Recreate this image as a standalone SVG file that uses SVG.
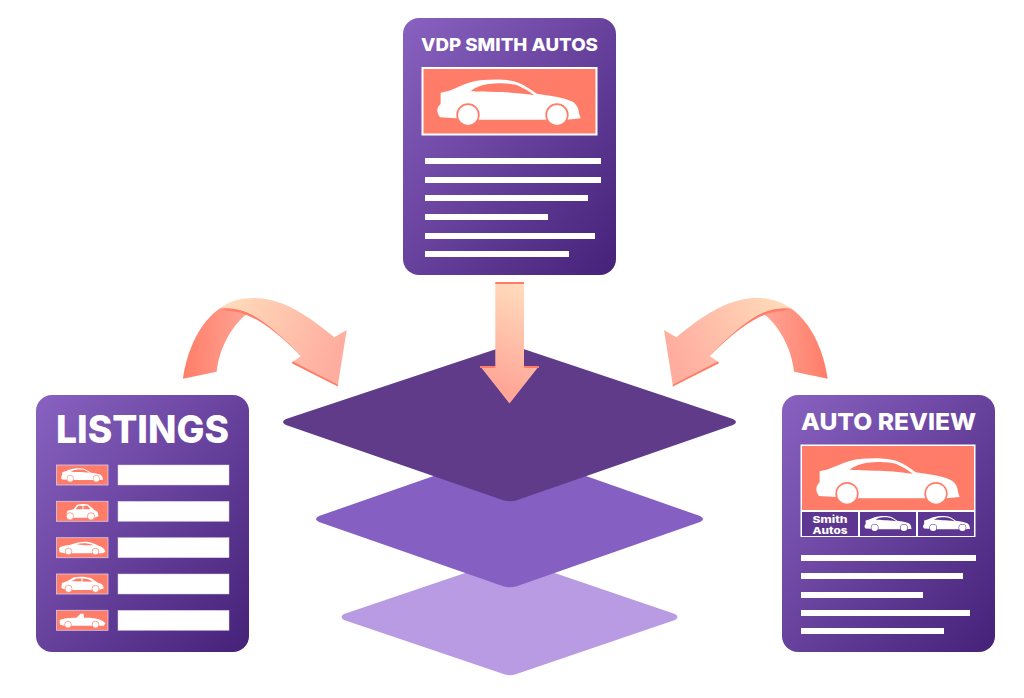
<svg xmlns="http://www.w3.org/2000/svg" xmlns:xlink="http://www.w3.org/1999/xlink" width="1024" height="698" viewBox="0 0 1024 698">
<style>
.card{fill:url(#cardGrad)}
.line{fill:#fff}
.title{font-family:"Inter","Noto Sans","Liberation Sans",sans-serif;font-weight:800;fill:#fff}
.img{fill:#ff7d68;stroke:#fff;stroke-width:2}
.thumb{fill:#ff7d68;stroke:#d9c8ea;stroke-width:.8}
.bar{fill:#fff;stroke:#d9c8ea;stroke-width:.5}
.edge{fill:#ff7d68}
.sm{fill:#fff}
.big{color:#ff7d68}
.dark{color:#5c3690}
</style>
<defs>
<linearGradient id="cardGrad" x1="0" y1="0" x2="1" y2="1"><stop offset="0" stop-color="#8962c1"/><stop offset="1" stop-color="#452178"/></linearGradient>
<linearGradient id="light" gradientUnits="userSpaceOnUse" x1="340" y1="350" x2="225" y2="300"><stop offset="0" stop-color="#ffad9e"/><stop offset="1" stop-color="#ffdcbc"/></linearGradient>
<linearGradient id="back" gradientUnits="userSpaceOnUse" x1="183" y1="340" x2="250" y2="340"><stop offset="0" stop-color="#ff7d68"/><stop offset="1" stop-color="#ffa697"/></linearGradient>
<linearGradient id="down" gradientUnits="userSpaceOnUse" x1="495" y1="385" x2="535" y2="290"><stop offset="0" stop-color="#ffa697"/><stop offset="1" stop-color="#ffdcbc"/></linearGradient>
<g id="car">
<path fill="#fff" d="M120 322C112 312 110 300 114 292C118 284 122 284 122 278L122 248C140 244 155 240 170 233C190 224 210 214 250 210C290 207 330 208 355 218C375 226 395 240 410 251C450 257 490 262 515 274C530 282 536 295 537 310L542 325L500 329L240 329L120 322Z"/>
<path fill="currentColor" d="M212 243C225 232 245 225 265 222C300 218 335 221 352 226C370 234 388 245 402 255C360 250 320 246 290 246C260 245 235 245 212 243Z"/>
<circle cx="204" cy="315" r="35" fill="currentColor"/><circle cx="204" cy="315" r="30" fill="#fff"/>
<circle cx="471" cy="315" r="35" fill="currentColor"/><circle cx="471" cy="315" r="30" fill="#fff"/>
</g>
</defs>

<g id="layers">
<g id="layer-3"><path fill="#b89be3" d="M505 559.500Q510 558 515 559.500L675 614Q680 617 675 620L515 674.500Q510 676 505 674.500L344 620Q339 617 344 614Z"/></g>
<g id="layer-2"><path fill="#865fc3" d="M504 451.500Q510 450 516 451.500L700 516Q706 519 700 522L516 586.500Q510 588 504 586.500L319 522Q313 519 319 516Z"/></g>
<g id="layer-1"><path fill="#5f3b8a" d="M504 346.500Q510 345 516 346.500L733 419Q739 422 733 425L516 500.500Q510 502 504 500.500L286 425Q280 422 286 419Z"/></g>
</g>

<g id="card-vdp">
<rect class="card" x="403" y="18" width="213" height="257" rx="16"/>
<text class="title" x="509.500" y="51" font-size="17.500" text-anchor="middle" textLength="177" lengthAdjust="spacingAndGlyphs">VDP SMITH AUTOS</text>
<rect class="img" x="422.500" y="68" width="174" height="66.500"/>
<use xlink:href="#car" href="#car" class="big" transform="translate(400 10) scale(.3333)"/>
<rect class="line" x="425" y="158" width="176" height="6"/>
<rect class="line" x="425" y="177" width="176" height="6"/>
<rect class="line" x="425" y="195" width="163" height="6"/>
<rect class="line" x="425" y="214" width="123" height="6"/>
<rect class="line" x="425" y="233" width="170" height="6"/>
<rect class="line" x="425" y="251" width="144" height="6"/>
</g>

<g id="card-listings">
<rect class="card" x="36" y="395" width="213" height="257" rx="16"/>
<text class="title" x="56" y="443" font-size="38.500" textLength="173" lengthAdjust="spacingAndGlyphs">LISTINGS</text>
<rect class="thumb" x="56.500" y="465" width="51.500" height="20"/>
<rect class="thumb" x="56.500" y="501.300" width="51.500" height="20"/>
<rect class="thumb" x="56.500" y="537.700" width="51.500" height="20"/>
<rect class="thumb" x="56.500" y="574" width="51.500" height="20"/>
<rect class="thumb" x="56.500" y="610.300" width="51.500" height="20"/>
<rect class="bar" x="118" y="465" width="111" height="20"/>
<rect class="bar" x="118" y="501.300" width="111" height="20"/>
<rect class="bar" x="118" y="537.700" width="111" height="20"/>
<rect class="bar" x="118" y="574" width="111" height="20"/>
<rect class="bar" x="118" y="610.300" width="111" height="20"/>
<use xlink:href="#car" href="#car" class="big" transform="translate(50.300 448) scale(.0975)"/>
<g transform="translate(56.500 501.300)">
<path class="sm" d="M10 13L11 9.500L17 8L20.500 3.500C24 2.500 29 2.500 32 3.500L37.500 8.500L41 10.500L42 15L38 16.500L14 16.500Z"/>
<path fill="#ff7d68" d="M19 8L22 4.500H26V8ZM27 4.500H31L34 8H27Z"/>
<circle cx="13.500" cy="15" r="3.600" fill="#fff" stroke="#ff7d68" stroke-width=".7"/><circle cx="34.500" cy="15" r="3.600" fill="#fff" stroke="#ff7d68" stroke-width=".7"/>
</g>
<g transform="translate(56.500 537.700)">
<path class="sm" d="M2.500 11C3 9 6 8 14 7C19 5 24 4 29 4C34 4 38 6 42 8C46 9 48 11 49 14L46 15.500L8 15.500L3 14.500Z"/>
<path fill="#ff7d68" d="M20 6.500C25 5 31 5 37 7.500L28 7.500Z"/>
<circle cx="12" cy="13.800" r="3.300" fill="#fff" stroke="#ff7d68" stroke-width=".7"/><circle cx="39" cy="13.800" r="3.300" fill="#fff" stroke="#ff7d68" stroke-width=".7"/>
</g>
<g transform="translate(56.500 574)">
<path class="sm" d="M4.800 14L5.500 9L11 7L17 3.500C23 2.300 30 2.700 35 4.500L41 8.500C45 9.500 47 11 47.200 14.500L42 16L10 16Z"/>
<path fill="#ff7d68" d="M15 7L20 4.500H25V7.500ZM26 4.500C30 4.500 33 5.500 36 7.800L26 7.500Z"/>
<circle cx="12" cy="14.800" r="3.500" fill="#fff" stroke="#ff7d68" stroke-width=".7"/><circle cx="39" cy="14.800" r="3.500" fill="#fff" stroke="#ff7d68" stroke-width=".7"/>
</g>
<g transform="translate(56.500 610.300)">
<path class="sm" d="M3 10.500C4 8.500 10 7.500 20 7.500L24 3.500L27 3.500L27.500 7.500L34 7.500C42 8.500 47 10 49 13.500L47 15.500L8 15.500L3.500 14.500Z"/>
<circle cx="11.500" cy="14.300" r="3.400" fill="#fff" stroke="#ff7d68" stroke-width=".7"/><circle cx="39" cy="14.300" r="3.400" fill="#fff" stroke="#ff7d68" stroke-width=".7"/>
</g>
</g>

<g id="card-review">
<rect class="card" x="782" y="395" width="213" height="257" rx="16"/>
<text class="title" x="888.500" y="430" font-size="23.500" text-anchor="middle" textLength="175" lengthAdjust="spacingAndGlyphs">AUTO REVIEW</text>
<rect x="800.500" y="444.500" width="175" height="92.500" fill="#fff"/>
<rect x="802" y="446" width="172" height="64" fill="#ff7d68"/>
<rect x="802" y="512" width="56" height="24" fill="#5c3690"/>
<rect x="860" y="512" width="56" height="24" fill="#5c3690"/>
<rect x="918" y="512" width="56" height="24" fill="#5c3690"/>
<use xlink:href="#car" href="#car" class="big" transform="translate(779 388.700) scale(.3333)"/>
<use xlink:href="#car" href="#car" class="dark" transform="translate(852.300 493.200) scale(.1096)"/>
<use xlink:href="#car" href="#car" class="dark" transform="translate(910.800 493.200) scale(.1096)"/>
<text class="title" x="830" y="522.500" font-size="9.500" text-anchor="middle" textLength="35" lengthAdjust="spacingAndGlyphs">Smith</text>
<text class="title" x="830" y="533.500" font-size="9.500" text-anchor="middle" textLength="35" lengthAdjust="spacingAndGlyphs">Autos</text>
<rect class="line" x="801" y="555" width="175" height="6"/>
<rect class="line" x="801" y="573" width="162" height="6"/>
<rect class="line" x="801" y="592" width="122" height="6"/>
<rect class="line" x="801" y="610" width="169" height="6"/>
<rect class="line" x="801" y="628" width="143" height="6"/>
</g>

<g id="connectors">
<g id="arrow-left">
<path fill="url(#back)" d="M183 378.700C187 350 200 322 220 308.300L248.300 312.700C232 325 219 348 216.700 371.700Z"/>
<path class="edge" d="M220 308.300C240 304 265 318 302.300 354L300.500 355.500C268 323 246 311 228 311Z"/>
<path class="edge" d="M291.700 363.300L338.300 386.700L337.500 384L293 361Z"/>
<path fill="url(#light)" d="M220 308.300C232 299 248 297 262 298.500C290 302 313 320 334.300 337.300L346.700 330L338 384.500L293 361.500L301 356C280 334 260 317 246 312C236 308 228 308 220 308.300Z"/>
</g>
<g id="arrow-right" transform="translate(1010.700 0) scale(-1 1)">
<path fill="url(#back)" d="M183 378.700C187 350 200 322 220 308.300L248.300 312.700C232 325 219 348 216.700 371.700Z"/>
<path class="edge" d="M220 308.300C240 304 265 318 302.300 354L300.500 355.500C268 323 246 311 228 311Z"/>
<path class="edge" d="M291.700 363.300L338.300 386.700L337.500 384L293 361Z"/>
<path fill="url(#light)" d="M220 308.300C232 299 248 297 262 298.500C290 302 313 320 334.300 337.300L346.700 330L338 384.500L293 361.500L301 356C280 334 260 317 246 312C236 308 228 308 220 308.300Z"/>
</g>
<g id="arrow-down">
<path fill="url(#down)" d="M495.300 282H524V366H539L509.500 403.500L480 366H495.300Z"/>
<rect class="edge" x="495.300" y="282" width="28.700" height="2"/>
<rect class="edge" x="480" y="366" width="15.300" height="2"/>
<rect class="edge" x="524" y="366" width="15" height="2"/>
</g>
</g>
</svg>
